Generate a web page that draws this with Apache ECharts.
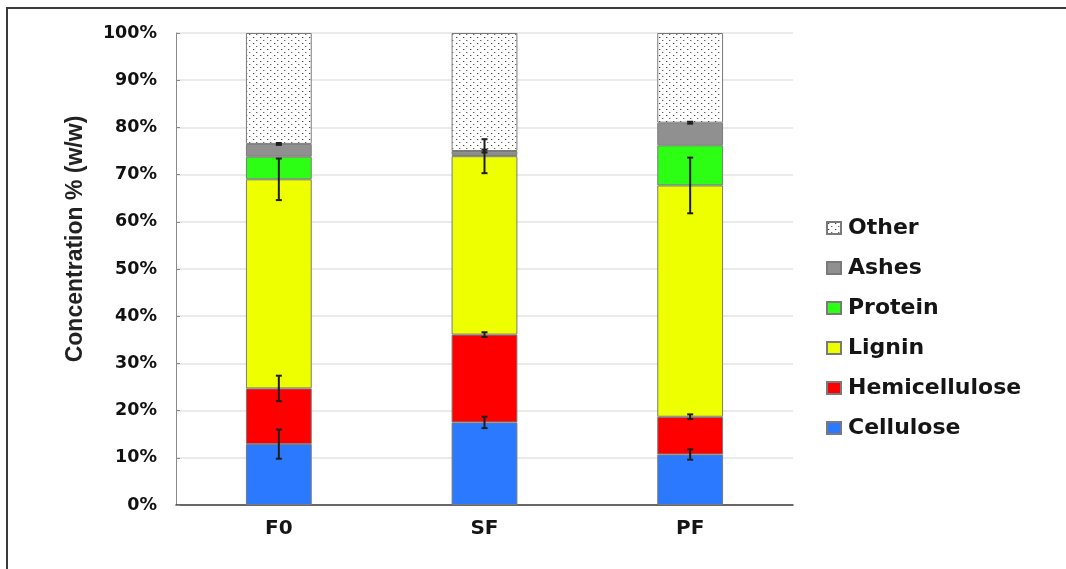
<!DOCTYPE html>
<html>
<head>
<meta charset="utf-8">
<style>
  html, body { margin: 0; padding: 0; background: #fff; }
  #chart { width: 1066px; height: 569px; }
</style>
<script src="https://cdn.jsdelivr.net/npm/echarts@6/dist/echarts.min.js"></script>
</head>
<body>
<div id="chart"></div>
<script>
// Sample groups
const categories = ['F0', 'SF', 'PF'];

// Composition, % (w/w), bottom to top of each stacked bar
const cellulose     = [12.9, 17.5, 10.7];
const hemicellulose = [11.8, 18.6, 8.0];
const lignin        = [44.3, 37.8, 49.0];
const protein       = [4.8, 0.3, 8.5];
const ashes         = [2.7, 0.8, 4.8];
const other         = [23.5, 25.0, 19.0];

// Standard deviations (null = no error bar drawn)
const celluloseErr     = [3.1, 1.2, 1.1];
const hemicelluloseErr = [2.7, 0.5, 0.5];
const ligninErr        = [4.4, 3.6, 5.9];
const proteinErr       = [null, null, null];
const ashesErr         = [0.2, 0.3, 0.2];

const yTicks = { min: 0, max: 100, interval: 10 };

// Dotted fill used for the "Other" fraction
function dotPattern() {
  const c = document.createElement('canvas');
  c.width = 7; c.height = 6;
  const g = c.getContext('2d');
  g.fillStyle = '#ffffff';
  g.fillRect(0, 0, 7, 6);
  g.fillStyle = '#444444';
  g.fillRect(1, 1, 1, 1);
  g.fillStyle = '#666666';
  g.fillRect(4, 4, 1, 1);
  g.fillStyle = '#c8c8c8';
  g.fillRect(2, 1, 1, 1);
  g.fillRect(5, 4, 1, 1);
  return c;
}

const components = [
  { name: 'Cellulose',     values: cellulose,     err: celluloseErr,     color: '#2a79ff' },
  { name: 'Hemicellulose', values: hemicellulose, err: hemicelluloseErr, color: '#ff0000' },
  { name: 'Lignin',        values: lignin,        err: ligninErr,        color: '#eeff00' },
  { name: 'Protein',       values: protein,       err: proteinErr,       color: '#2cff14' },
  { name: 'Ashes',         values: ashes,         err: ashesErr,         color: '#909090' },
  { name: 'Other',         values: other,         err: null,             color: { image: dotPattern(), repeat: 'repeat' } }
];

// Error bars sit on the cumulative top of each segment
const errorData = [];
const running = categories.map(() => 0);
components.forEach(comp => {
  comp.values.forEach((v, i) => {
    running[i] += v;
    if (comp.err && comp.err[i] != null) {
      errorData.push([i, running[i], comp.err[i]]);
    }
  });
});

const barSeries = components.map(comp => ({
  name: comp.name,
  type: 'bar',
  stack: 'total',
  barWidth: '32%',
  data: comp.values,
  itemStyle: { color: comp.color, borderColor: '#7a7a7a', borderWidth: 1 },
  emphasis: { disabled: true }
}));

const errorSeries = {
  name: 'error',
  type: 'custom',
  z: 10,
  data: errorData,
  renderItem: function (params, api) {
    const idx = api.value(0);
    const top = api.value(1);
    const e = api.value(2);
    const hi = api.coord([idx, top + e]);
    const lo = api.coord([idx, top - e]);
    const cap = 3;
    const style = { stroke: '#1e1e1e', lineWidth: 2 };
    return {
      type: 'group',
      children: [
        { type: 'line', shape: { x1: hi[0], y1: hi[1], x2: lo[0], y2: lo[1] }, style },
        { type: 'line', shape: { x1: hi[0] - cap, y1: hi[1], x2: hi[0] + cap, y2: hi[1] }, style },
        { type: 'line', shape: { x1: lo[0] - cap, y1: lo[1], x2: lo[0] + cap, y2: lo[1] }, style }
      ]
    };
  }
};

const chart = echarts.init(document.getElementById('chart'), null, { renderer: 'canvas' });

chart.setOption({
  animation: false,
  backgroundColor: '#ffffff',
  grid: { left: 176, right: 273, top: 33, bottom: 64, outerBoundsMode: 'none' },
  legend: {
    orient: 'vertical',
    left: 821,
    top: 212,
    icon: 'rect',
    itemWidth: 14,
    itemHeight: 12,
    itemGap: 18,
    data: ['Other', 'Ashes', 'Protein', 'Lignin', 'Hemicellulose', 'Cellulose'],
    textStyle: {
      fontFamily: 'DejaVu Sans',
      fontWeight: 'bold',
      fontSize: 22,
      lineHeight: 22,
      color: '#151515',
      padding: [0, 0, 0, 2]
    },
    selectedMode: false
  },
  xAxis: {
    type: 'category',
    data: categories,
    axisLine: { lineStyle: { color: '#3c3c3c', width: 1.5 } },
    axisTick: { show: false },
    axisLabel: {
      margin: 14,
      fontFamily: 'DejaVu Sans',
      fontWeight: 'bold',
      fontSize: 20,
      color: '#151515'
    }
  },
  yAxis: {
    type: 'value',
    min: yTicks.min,
    max: yTicks.max,
    interval: yTicks.interval,
    axisLine: { show: true, lineStyle: { color: '#8a8a8a', width: 1 } },
    axisTick: { show: true, inside: true, length: 4, lineStyle: { color: '#8a8a8a' } },
    splitLine: { lineStyle: { color: '#e3e3e3', width: 1.5 } },
    axisLabel: {
      formatter: '{value}%',
      margin: 19,
      fontFamily: 'DejaVu Sans',
      fontWeight: 'bold',
      fontSize: 17.5,
      color: '#111111'
    }
  },
  graphic: [
    {
      type: 'polyline',
      silent: true,
      shape: { points: [[7, 569], [7, 8], [1066, 8]] },
      style: { stroke: '#3a3a3a', lineWidth: 2, fill: null }
    },
    {
      type: 'text',
      silent: true,
      x: 76,
      y: 239,
      rotation: Math.PI / 2,
      style: {
        text: 'Concentration % (w/w)',
        align: 'center',
        verticalAlign: 'middle',
        font: 'bold 23px "Liberation Sans", Arial, sans-serif',
        fill: '#222222'
      }
    }
  ],
  series: barSeries.concat([errorSeries])
});
</script>
</body>
</html>
